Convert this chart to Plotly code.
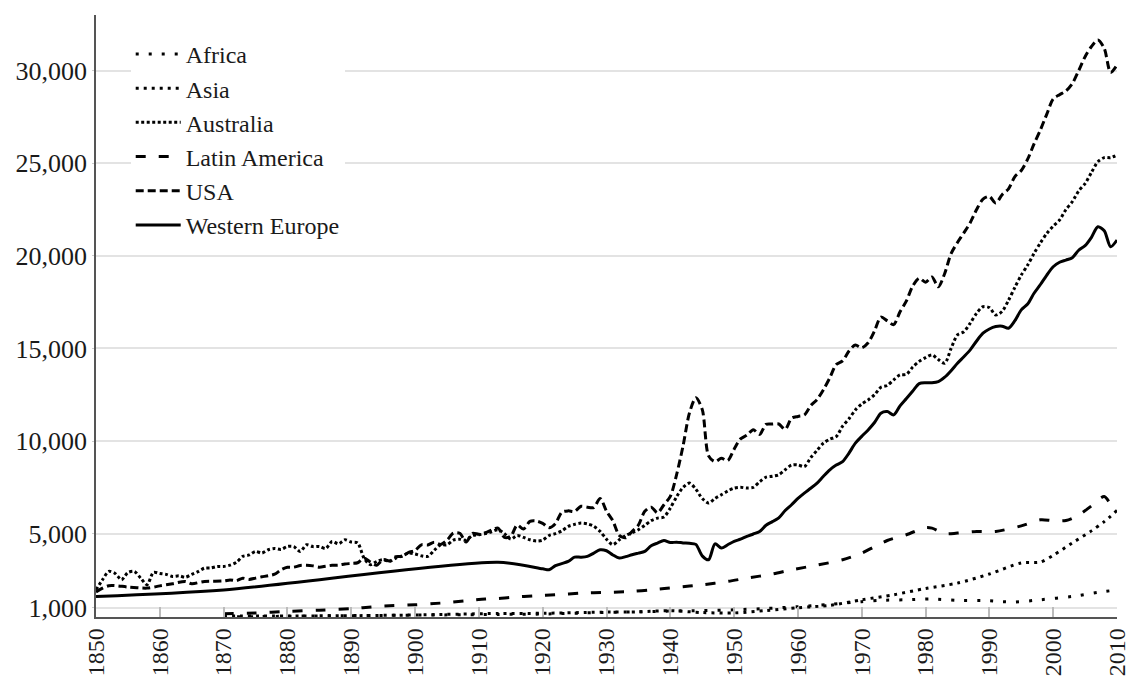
import plotly.graph_objects as go

# ---------------- data (GDP per capita) ----------------
usa_years = [1850, 1852, 1855, 1858, 1860, 1862, 1864, 1865, 1867] + list(range(1870, 2011))
usa_values = [
    1850, 2190, 2120, 2060, 2180, 2300, 2420, 2300, 2420,
    2445, 2503, 2460, 2594, 2529, 2599, 2669, 2731, 2811, 3045,   # 1870-79
    3184, 3190, 3280, 3290, 3260, 3190, 3240, 3290, 3300, 3360,   # 1880-89
    3392, 3430, 3680, 3467, 3300, 3600, 3530, 3755, 3770, 3990,   # 1890-99
    4091, 4398, 4390, 4540, 4420, 4640, 5030, 5020, 4550, 5020,   # 1900-09
    4964, 5046, 5200, 5301, 4800, 4860, 5460, 5250, 5660, 5680,   # 1910-19
    5552, 5320, 5540, 6160, 6230, 6200, 6480, 6430, 6410, 6899,   # 1920-29
    6213, 5691, 4908, 4777, 5114, 5467, 6204, 6430, 6126, 6561,   # 1930-39
    7010, 8206, 9741, 11518, 12333, 11709, 9197, 8886, 9065, 8944,  # 1940-49
    9561, 10116, 10316, 10613, 10359, 10897, 10914, 10920, 10631, 11230,  # 1950-59
    11328, 11402, 11905, 12242, 12773, 13419, 14134, 14330, 14863, 15179,  # 1960-69
    15030, 15304, 15944, 16689, 16491, 16284, 16975, 17567, 18373, 18789,  # 1970-79
    18577, 18856, 18325, 19048, 20123, 20717, 21236, 21788, 22499, 23059,  # 1980-89
    23201, 22849, 23298, 23616, 24279, 24603, 25216, 26038, 26798, 27651,  # 1990-99
    28467, 28700, 28900, 29300, 30000, 30750, 31300, 31650, 31200, 29900,  # 2000-09
    30300,
]

we_years = [1850, 1870, 1913, 1920, 1921, 1922] + list(range(1924, 2011))
we_values = [
    1610, 1960, 3450, 3100, 3050, 3270,
    3500, 3735, 3730, 3770, 3950, 4130,                           # 1924-29
    4076, 3850, 3680, 3760, 3860, 3950, 4040, 4350, 4490, 4630,   # 1930-39
    4520, 4540, 4500, 4480, 4420, 3800, 3590, 4450, 4220, 4400,   # 1940-49
    4580, 4700, 4850, 4980, 5120, 5450, 5650, 5850, 6250, 6560,   # 1950-59
    6900, 7190, 7450, 7730, 8100, 8445, 8700, 8890, 9350, 9885,   # 1960-69
    10250, 10600, 11000, 11500, 11590, 11410, 11900, 12300, 12700, 13100,  # 1970-79
    13150, 13150, 13210, 13450, 13800, 14200, 14550, 14920, 15400, 15820,  # 1980-89
    16050, 16180, 16200, 16090, 16500, 17080, 17400, 17980, 18450, 18960,  # 1990-99
    19410, 19650, 19770, 19900, 20300, 20550, 21000, 21570, 21350, 20490,  # 2000-09
    20850,
]

aus_years = list(range(1850, 2011))
aus_values = [
    1970, 2500, 2960, 2850, 2510, 2900, 2960, 2600, 2240, 2905,   # 1850-59
    2850, 2800, 2690, 2720, 2650, 2800, 2950, 3140, 3150, 3230,   # 1860-69
    3230, 3300, 3450, 3770, 3850, 4040, 3950, 4130, 4200, 4150,   # 1870-79
    4310, 4300, 4040, 4400, 4300, 4310, 4200, 4580, 4450, 4670,   # 1880-89
    4550, 4500, 3680, 3320, 3500, 3600, 3500, 3680, 3800, 3950,   # 1890-99
    3900, 3800, 3770, 4100, 4400, 4400, 4650, 4700, 4650, 4900,   # 1900-09
    4940, 5000, 5100, 5210, 5000, 4700, 4900, 4800, 4670, 4600,   # 1910-19
    4650, 4900, 5000, 5150, 5390, 5500, 5570, 5530, 5400, 5120,   # 1920-29
    4700, 4400, 4670, 4900, 5050, 5210, 5450, 5700, 5840, 5900,   # 1930-39
    6380, 7000, 7500, 7730, 7400, 6900, 6650, 6900, 7100, 7300,   # 1940-49
    7460, 7500, 7460, 7500, 7800, 8050, 8100, 8180, 8450, 8700,   # 1950-59
    8710, 8620, 9100, 9500, 9890, 10100, 10240, 10800, 11200, 11680,  # 1960-69
    12000, 12220, 12500, 12900, 13000, 13300, 13570, 13600, 14000, 14300,  # 1970-79
    14500, 14650, 14400, 14200, 15000, 15730, 15900, 16360, 16900, 17250,  # 1980-89
    17200, 16800, 17000, 17600, 18300, 18960, 19500, 20130, 20700, 21210,  # 1990-99
    21600, 21930, 22500, 22920, 23500, 23900, 24500, 25080, 25300, 25300,  # 2000-09
    25440,
]

lat_years = [1870, 1875, 1880, 1885, 1890, 1894, 1896, 1900, 1904, 1908, 1911, 1913,
             1915, 1919, 1922, 1926, 1930, 1934, 1937, 1941, 1945, 1949, 1952, 1956,
             1959, 1963, 1967, 1970, 1972, 1974, 1977, 1980, 1981, 1983, 1985, 1988,
             1991, 1995, 1998, 2000, 2002, 2004, 2006, 2008, 2009, 2010]
lat_values = [680, 720, 800, 870, 950, 1070, 1110, 1160, 1250, 1380, 1470, 1500,
              1560, 1650, 1700, 1790, 1830, 1880, 1970, 2100, 2240, 2420, 2600, 2820,
              3050, 3300, 3590, 3950, 4300, 4630, 4940, 5330, 5300, 5000, 5030, 5120,
              5120, 5420, 5750, 5700, 5710, 6000, 6500, 7000, 6600, 6300]

afr_years = [1870, 1880, 1890, 1900, 1913, 1920, 1929, 1935, 1940, 1945, 1950, 1955,
             1960, 1965, 1970, 1973, 1977, 1981, 1985, 1990, 1992, 1994, 1998, 2003,
             2007, 2010]
afr_values = [500, 540, 575, 600, 640, 660, 740, 780, 820, 850, 890, 960,
              1060, 1180, 1330, 1400, 1430, 1470, 1400, 1380, 1330, 1310, 1430, 1610,
              1830, 1960]

asia_years = [1870, 1880, 1890, 1900, 1913, 1920, 1929, 1935, 1940, 1945, 1950, 1955,
              1960, 1965, 1970, 1975, 1980, 1985, 1990, 1995, 1998, 2000, 2003, 2006,
              2008, 2010]
asia_values = [550, 555, 570, 610, 690, 700, 760, 780, 840, 740, 720, 850,
               1000, 1130, 1430, 1700, 2040, 2330, 2820, 3420, 3470, 3830, 4500, 5150,
               5650, 6250]

series = [
    ("Africa", afr_years, afr_values, "3px,10px"),
    ("Asia", asia_years, asia_values, "3px,5px"),
    ("Australia", aus_years, aus_values, "3px,2.5px"),
    ("Latin America", lat_years, lat_values, "10px,13px"),
    ("USA", usa_years, usa_values, "8px,4px"),
    ("Western Europe", we_years, we_values, "solid"),
]

y_ticks = [1000, 5000, 10000, 15000, 20000, 25000, 30000]
x_ticks = list(range(1850, 2011, 10))

FONT = "Liberation Serif"
FSIZE = 26

fig = go.Figure()
for name, xs, ys, dash in series:
    fig.add_trace(go.Scatter(
        x=xs, y=ys, name=name, mode="lines",
        line=dict(color="black", width=3, dash=dash, shape="spline", smoothing=0.8),
    ))

fig.update_layout(
    width=1131, height=679,
    margin=dict(l=96, r=14, t=15, b=62),
    paper_bgcolor="white", plot_bgcolor="white",
    font=dict(family=FONT, size=FSIZE, color="#1a1a1a"),
    showlegend=True,
    legend=dict(
        x=0.034, y=0.972, xanchor="left", yanchor="top",
        bgcolor="rgba(255,255,255,1)", borderwidth=0,
        font=dict(family=FONT, size=24, color="#1a1a1a"),
        itemwidth=45, tracegroupgap=0,
    ),
)
fig.update_xaxes(
    range=[1850, 2010], tickvals=x_ticks, tickangle=-90,
    showgrid=False, zeroline=False,
    showline=True, linecolor="#555555", linewidth=1.5,
    ticks="inside", ticklen=10, tickcolor="#bbbbbb", tickwidth=2,
    ticklabelstandoff=0, ticklabeloverflow="allow", automargin=False,
    tickfont=dict(family=FONT, size=24, color="#1a1a1a"),
)
fig.update_yaxes(
    range=[500, 33000], tickvals=y_ticks, tickformat=",d",
    showgrid=True, gridcolor="#e3e3e3", gridwidth=1.5, zeroline=False,
    showline=True, linecolor="#555555", linewidth=1.5,
    ticks="outside", ticklen=2, tickcolor="#cccccc",
    automargin=False,
    tickfont=dict(family=FONT, size=FSIZE, color="#1a1a1a"),
)

fig.write_html("out.html", config={"displayModeBar": False},
               post_script="document.body.style.margin='0px';")
